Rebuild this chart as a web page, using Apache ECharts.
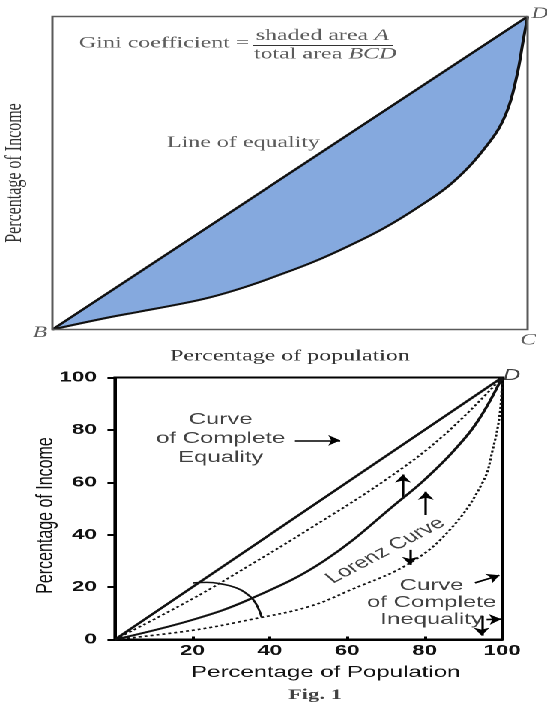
<!DOCTYPE html>
<html>
<head>
<meta charset="utf-8">
<title>Lorenz curve and Gini coefficient</title>
<script src="https://cdn.jsdelivr.net/npm/echarts/dist/echarts.min.js"></script>
<style>
  html, body { margin: 0; padding: 0; background: #fff; overflow: hidden; }
  /* the source scan is stretched sideways (~1.5x), so draw narrow and widen it */
  #chart { width: 365px; height: 705px; transform: scaleX(1.4986); transform-origin: 0 0; }
</style>
</head>
<body>
<div id="chart"></div>
<script>
// top panel: Lorenz curve of the shaded figure (percent of population / income)
const topPopulation = [0, 11, 18.3, 25.7, 33, 40.4, 47.7, 55.1, 62.4, 69.7, 77.1, 84.4, 91.8, 95.5, 97.7, 99.1, 100]
const topIncome = [0, 3.6, 5.7, 7.8, 10.2, 13.5, 17.4, 21.7, 26.7, 32.3, 39.2, 47.2, 59.5, 69.1, 80.8, 92.5, 100]
const equalityLine = [0, 100]

// bottom panel (Fig. 1)
const shiftedPop = [0, 20, 35, 50, 70, 85, 100]
const shiftedInc = [0, 15.5, 28.5, 42, 61, 78, 100]
const lorenzPop = [0, 20, 35, 54, 74.4, 80, 87.5, 94, 100]
const lorenzInc = [0, 7.5, 15.5, 30, 54, 61, 72, 84, 100]
const unequalPop = [0, 20, 35, 50, 61, 76, 86.6, 95, 97.5, 99.4, 100]
const unequalInc = [0, 3.5, 7.6, 12.5, 19, 29, 42, 60, 72, 86, 100]
const arcPop = [20.2, 23.7, 27.5, 31.4, 34, 35.7, 37, 37.9]
const arcInc = [21.6, 21.8, 21.2, 19.7, 17.5, 15.2, 12, 8.5]
const axisTicks = [0, 20, 40, 60, 80, 100]

// arrows of Fig. 1, [from, to]
const arrows = [
  [[46.5, 76], [58.2, 76]],
  [[74.4, 54], [74.4, 63]],
  [[80.3, 47.5], [80.3, 56.4]],
  [[76.2, 34.2], [76.2, 28.5]],
  [[93, 21.6], [99.3, 24.5]],
  [[94.7, 9], [94.7, 1.5]],
  [[96, 7.6], [99.8, 7.8]]
]

// text placed in data units
const topNotes = [
  { name: 'Gini coefficient =', value: [5.6, 91.4], label: { align: 'left' } },
  { name: 'shaded area {i|A}', value: [56.8, 93.9] },
  { name: 'total area {i|BCD}', value: [57.4, 88.0] },
  { name: 'Line of equality', value: [40.2, 59.6] },
  { name: '{i|A}', value: [61.3, 44.3] },
  { name: 'Lorenz curve', value: [83.2, 29.2] },
  { name: '{i|B}', value: [-2.6, -1.1] },
  { name: '{i|C}', value: [100.1, -3.4] },
  { name: '{i|D}', value: [102.6, 100.8] }
]
const fractionBar = [[42.2, 90.9], [71.7, 90.9]]

const bottomNotes = [
  { name: 'Curve\nof Complete\nEquality', value: [27.3, 76.7], label: { lineHeight: 19 } },
  { name: 'Lorenz Curve', value: [69.9, 33.9], label: { rotate: 38 } },
  { name: 'Curve\nof Complete\nInequality', value: [81.8, 14], label: { lineHeight: 17 } },
  { name: '{i|D}', value: [102.5, 100.8] },
  { name: '{f|Fig. 1}', value: [51.7, -21.3] }
]

const SERIF = '"Liberation Serif", "Times New Roman", serif'
const SANS = '"Liberation Sans", Arial, Helvetica, sans-serif'
const BLUE = '#85a9de'

const pairs = (xs, ys) => xs.map((x, i) => [x, ys[i]])

const chart = echarts.init(document.getElementById('chart'), null, { devicePixelRatio: 2 })

const bottomLine = (name, xs, ys, dotted) => ({
  name,
  type: 'line',
  xAxisIndex: 1,
  yAxisIndex: 1,
  data: pairs(xs, ys),
  symbol: 'none',
  smooth: 0.4,
  lineStyle: {
    color: '#111',
    width: dotted ? 1.6 : 2,
    type: dotted ? [2, 2] : 'solid'
  }
})

const option = {
  animation: false,
  backgroundColor: '#fff',
  grid: [
    {
      left: 35, right: 13, top: 16.5, bottom: 375.5,
      show: true, borderColor: '#5a5a5a', borderWidth: 1.5, z: 10,
      outerBoundsMode: 'none'
    },
    {
      left: 76.7, right: 30, top: 377.5, bottom: 65.5,
      show: true, borderColor: '#000', borderWidth: 2,
      outerBoundsMode: 'none'
    }
  ],
  xAxis: [
    {
      gridIndex: 0, type: 'value', min: 0, max: 100,
      axisLine: { show: false }, axisTick: { show: false },
      axisLabel: { show: false }, splitLine: { show: false },
      name: 'Percentage of population', nameLocation: 'middle', nameGap: 19,
      nameTextStyle: { fontFamily: SERIF, fontSize: 16, color: '#333' }
    },
    {
      gridIndex: 1, type: 'value',
      min: axisTicks[0], max: axisTicks[axisTicks.length - 1], interval: axisTicks[1] - axisTicks[0],
      axisLine: { lineStyle: { color: '#000', width: 2 } },
      axisTick: { inside: true, length: 3, lineStyle: { color: '#000', width: 2 } },
      axisLabel: {
        showMinLabel: false, margin: 4,
        fontFamily: SANS, fontSize: 15, fontWeight: 'bold', color: '#111'
      },
      splitLine: { show: false },
      name: 'Percentage of Population', nameLocation: 'middle', nameGap: 25,
      nameTextStyle: { fontFamily: SANS, fontSize: 16, color: '#111', padding: [0, 0, 0, 23] }
    }
  ],
  yAxis: [
    {
      gridIndex: 0, type: 'value', min: 0, max: 100,
      axisLine: { show: false }, axisTick: { show: false },
      axisLabel: { show: false }, splitLine: { show: false },
      name: 'Percentage of Income', nameLocation: 'middle', nameGap: 17, nameMoveOverlap: false,
      nameTextStyle: { fontFamily: SERIF, fontSize: 16, color: '#333' }
    },
    {
      gridIndex: 1, type: 'value',
      min: axisTicks[0], max: axisTicks[axisTicks.length - 1], interval: axisTicks[1] - axisTicks[0],
      axisLine: { lineStyle: { color: '#000', width: 2 } },
      axisTick: { length: 5, lineStyle: { color: '#000', width: 2 } },
      axisLabel: { margin: 12, fontFamily: SANS, fontSize: 15, fontWeight: 'bold', color: '#111' },
      splitLine: { show: false },
      name: 'Percentage of Income', nameLocation: 'middle', nameGap: 38, nameMoveOverlap: false,
      nameTextStyle: { fontFamily: SANS, fontSize: 16, color: '#111', padding: [0, 14, 0, 0] }
    }
  ],
  series: [
    // top: blue under the equality line, then white under the Lorenz curve
    {
      name: 'Line of equality',
      type: 'line',
      data: pairs(equalityLine, equalityLine),
      symbol: 'none',
      lineStyle: { color: '#111', width: 2 },
      areaStyle: { color: BLUE, opacity: 1 }
    },
    {
      name: 'Lorenz curve',
      type: 'line',
      data: pairs(topPopulation, topIncome),
      symbol: 'none',
      smooth: 0.4,
      lineStyle: { color: '#111', width: 2 },
      areaStyle: { color: '#fff', opacity: 1 }
    },
    {
      type: 'lines',
      coordinateSystem: 'cartesian2d',
      data: [{ coords: fractionBar }],
      symbol: 'none',
      lineStyle: { color: '#333', width: 1, opacity: 1 }
    },
    {
      type: 'scatter',
      data: topNotes,
      symbolSize: 0,
      clip: false,
      silent: true,
      label: {
        show: true,
        position: 'inside',
        formatter: p => p.name,
        fontFamily: SERIF,
        fontSize: 16,
        color: '#333',
        rich: {
          i: { fontFamily: SERIF, fontSize: 16, fontStyle: 'italic', color: '#333' }
        }
      }
    },

    // bottom: Fig. 1
    bottomLine('Complete equality', equalityLine, equalityLine, false),
    bottomLine('Shifted curve', shiftedPop, shiftedInc, true),
    bottomLine('Lorenz curve', lorenzPop, lorenzInc, false),
    bottomLine('Unequal curve', unequalPop, unequalInc, true),
    {
      type: 'line',
      xAxisIndex: 1,
      yAxisIndex: 1,
      data: pairs(arcPop, arcInc),
      symbol: 'none',
      smooth: 0.5,
      lineStyle: { color: '#111', width: 1.6 }
    },
    {
      type: 'lines',
      coordinateSystem: 'cartesian2d',
      xAxisIndex: 1,
      yAxisIndex: 1,
      data: arrows.map(a => ({ coords: a })),
      symbol: ['none', 'arrow'],
      symbolSize: 8,
      lineStyle: { color: '#000', width: 1.6, opacity: 1 }
    },
    {
      type: 'scatter',
      xAxisIndex: 1,
      yAxisIndex: 1,
      data: bottomNotes,
      symbolSize: 0,
      clip: false,
      silent: true,
      label: {
        show: true,
        position: 'inside',
        formatter: p => p.name,
        fontFamily: SANS,
        fontSize: 16,
        color: '#111',
        rich: {
          i: { fontFamily: SANS, fontSize: 16, fontStyle: 'italic', color: '#111' },
          f: { fontFamily: SERIF, fontSize: 15, fontWeight: 'bold', color: '#111' }
        }
      }
    }
  ]
}

chart.setOption(option)
</script>
</body>
</html>
